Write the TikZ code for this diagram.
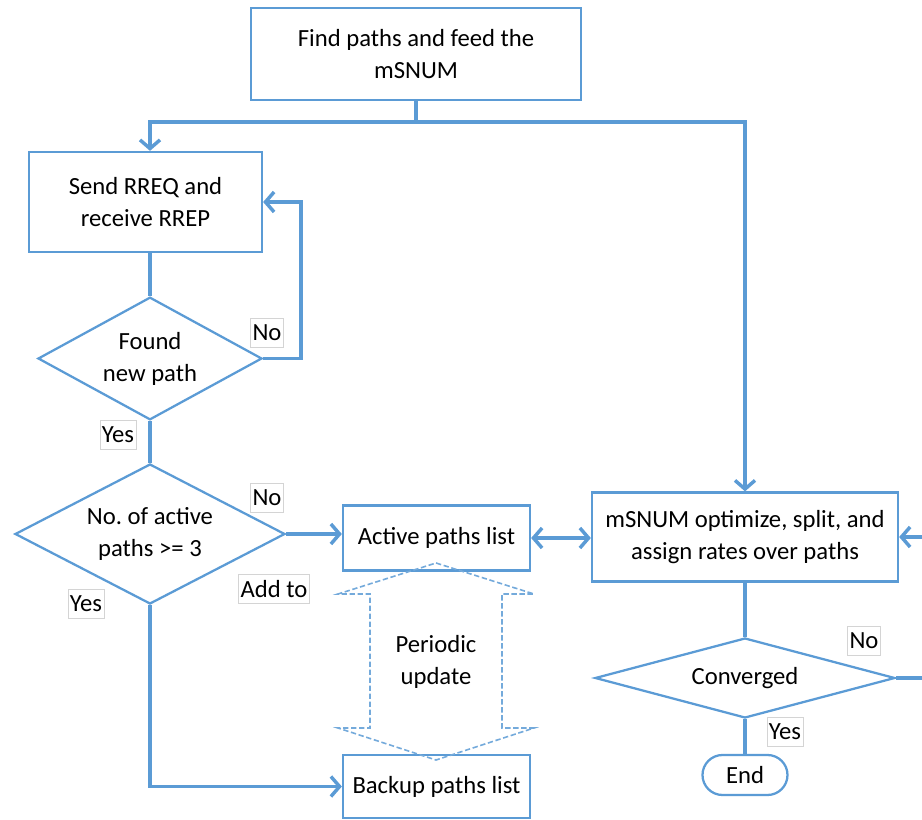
\documentclass[tikz,border=0pt]{standalone}
\usepackage{fontspec}
\setmainfont{Carlito}
\usetikzlibrary{shapes.geometric,arrows.meta}
\definecolor{flowblue}{HTML}{5B9BD5}
\definecolor{labelgray}{HTML}{D4D4D4}

\begin{document}
\begin{tikzpicture}[x=0.75pt,y=-0.75pt,>={Straight Barb[length=6.5pt,width=15pt]},
        every node/.style={font=\fontsize{18.5}{24}\selectfont, align=center},
        block/.style={rectangle, draw=flowblue, line width=1.7pt, inner sep=0pt},
        decision/.style={diamond, draw=flowblue, line width=1.7pt, inner sep=0pt},
        terminal/.style={rectangle, rounded corners=15pt, draw=flowblue, line width=1.7pt, inner sep=0pt},
        answer/.style={rectangle, draw=labelgray, line width=0.6pt, fill=white, inner xsep=1.5pt, inner ysep=0pt, minimum height=22pt},
        link/.style={draw=flowblue, line width=2.6pt}]

            \useasboundingbox (0,0) rectangle (922,820);

            % Blocks

            \node [block, minimum width=247.5pt, minimum height=69pt] (find) at (416,54) {Find paths and feed the\\mSNUM};
            \node [block, minimum width=174.75pt, minimum height=75pt] (send) at (145.5,202) {Send RREQ and\\receive RREP};
            \node [decision, aspect=1.83, minimum width=168pt, minimum height=92pt] (found) at (150,358.5) {Found\\new path};
            \node [decision, aspect=1.93, minimum width=202.5pt, minimum height=105pt] (count) at (150,534) {No.\ of active\\paths >= 3};
            \node [block, minimum width=140.25pt, minimum height=48.75pt] (active) at (436.5,538) {Active paths list};
            \node [block, minimum width=140.25pt, minimum height=47.25pt] (backup) at (436.5,786.5) {Backup paths list};
            \node [block, minimum width=229.5pt, minimum height=66.75pt] (msnum) at (745,537) {mSNUM optimize, split, and\\assign rates over paths};
            \node [decision, aspect=3.75, minimum width=225pt, minimum height=60pt] (conv) at (745,678) {Converged};
            \node [terminal, minimum width=63.75pt, minimum height=30pt] (end) at (745,775) {End};

            % Periodic update

            \draw [flowblue!85, line width=1.2pt, dash pattern=on 4pt off 2pt]
                  (436,563) -- (534,594) -- (502,594) -- (502,728) -- (534,728) -- (436,760)
                  -- (338,728) -- (370,728) -- (370,594) -- (338,594) -- cycle;
            \node (update) at (436,662) {Periodic\\update};

            % Connectors

            \coordinate (split) at (416,122);
            \path [link]
                  (find) edge (split)
                  (found) edge (count)
                  (conv) edge (end)
                ;
            \draw [link,->] (split) -| (send.north -| found.north);
            \draw [link,->] (split) -| (msnum);
            \draw [link] (send.south -| found.north) -- (found.north);
            \draw [link,->] (found.east) -- ++(38,0) |- (send.east);
            \draw [link,->] (count.east) -- (count.east -| active.west);
            \draw [link,->] (count.south) |- (backup.west);
            \draw [link,<->] (active.east) -- (active.east -| msnum.west);
            \draw [link] (msnum.south -| conv.north) -- (conv.north);
            \draw [link,->] (conv.east) -- ++(40,0) |- (msnum.east);

            % Answers

            \node [answer] (no1) at (267,333) {No};
            \node [answer] (yes1) at (118,435) {Yes};
            \node [answer] (no2) at (267,498) {No};
            \node [answer] (addto) at (274,589) {Add to};
            \node [answer] (yes2) at (86,604) {Yes};
            \node [answer] (no3) at (864,641) {No};
            \node [answer] (yes3) at (785,732) {Yes};
        \end{tikzpicture}
\end{document}
